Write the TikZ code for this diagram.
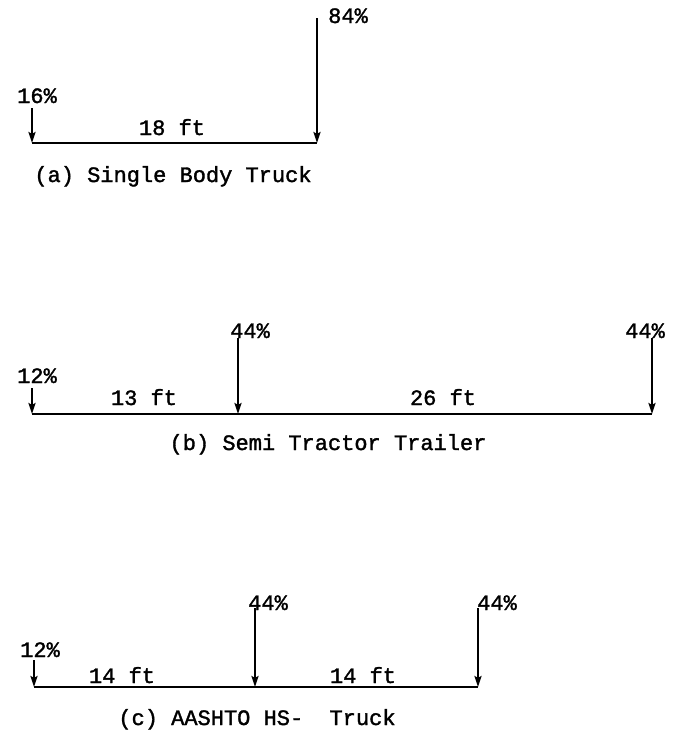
\documentclass[tikz,border=0pt]{standalone}
\usepackage{fontspec}
\setmonofont[FakeBold=1.5]{Liberation Mono}
\usetikzlibrary{arrows.meta}
\begin{document}
\begin{tikzpicture}[x=1pt,y=-1pt,
  load/.style={-{Stealth[length=11pt,width=7pt,inset=2pt]}, line width=2.2pt},
  beam/.style={line width=2.8pt},
  lbl/.style={font=\ttfamily\fontsize{22}{24}\selectfont, inner sep=0pt, anchor=base}]
\useasboundingbox (0,0) rectangle (675,731);
% (a) Single Body Truck
\coordinate (a1) at (32,143);
\coordinate (a2) at (317,143);
\coordinate (a1t) at (32,108);
\coordinate (a2t) at (317,18);
\draw[beam] (a1) -- (a2);
\draw[load] (a1t) -- (a1);
\draw[load] (a2t) -- (a2);
\node[lbl] (pa1) at (37,103) {16\%};
\node[lbl, anchor=base west] (pa2) at (328,23) {84\%};
\node[lbl] (da) at (172,135) {18 ft};
\node[lbl] (capa) at (173,182) {(a) Single Body Truck};
% (b) Semi Tractor Trailer
\coordinate (b1) at (32,414);
\coordinate (b2) at (238,414);
\coordinate (b3) at (652,414);
\coordinate (b1t) at (32,388);
\coordinate (b2t) at (238,338);
\coordinate (b3t) at (652,338);
\draw[beam] (b1) -- (b3);
\draw[load] (b1t) -- (b1);
\draw[load] (b2t) -- (b2);
\draw[load] (b3t) -- (b3);
\node[lbl] (pb1) at (37,383) {12\%};
\node[lbl] (pb2) at (250,338) {44\%};
\node[lbl] (pb3) at (645,338) {44\%};
\node[lbl] (db1) at (144,405) {13 ft};
\node[lbl] (db2) at (443,405) {26 ft};
\node[lbl] (capb) at (328,450) {(b) Semi Tractor Trailer};
% (c) AASHTO HS- Truck
\coordinate (c1) at (34,687);
\coordinate (c2) at (255,687);
\coordinate (c3) at (478,687);
\coordinate (c1t) at (34,660);
\coordinate (c2t) at (255,608);
\coordinate (c3t) at (478,608);
\draw[beam] (c1) -- (c3);
\draw[load] (c1t) -- (c1);
\draw[load] (c2t) -- (c2);
\draw[load] (c3t) -- (c3);
\node[lbl] (pc1) at (40,657) {12\%};
\node[lbl] (pc2) at (268,610) {44\%};
\node[lbl] (pc3) at (497,610) {44\%};
\node[lbl] (dc1) at (122,683) {14 ft};
\node[lbl] (dc2) at (363,683) {14 ft};
\node[lbl] (capc) at (257,725) {(c) AASHTO HS-\ \ Truck};
\end{tikzpicture}
\end{document}
